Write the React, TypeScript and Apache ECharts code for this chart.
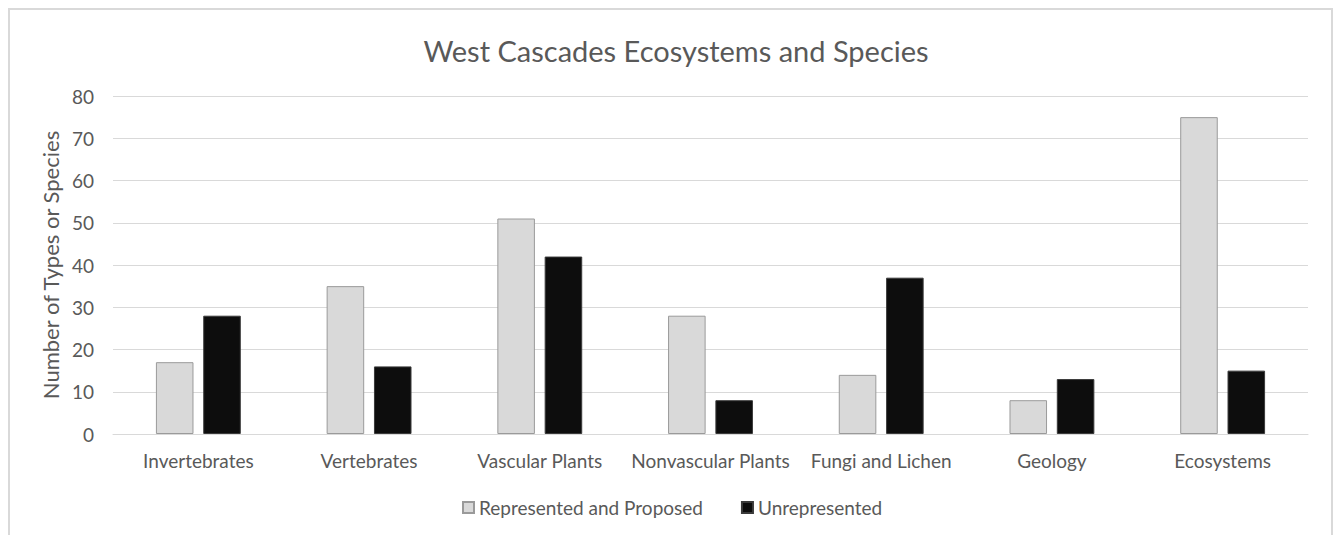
import React, { useEffect, useRef } from "react";
import * as echarts from "echarts";

const categories = [
  "Invertebrates",
  "Vertebrates",
  "Vascular Plants",
  "Nonvascular Plants",
  "Fungi and Lichen",
  "Geology",
  "Ecosystems",
];
const represented = [17, 35, 51, 28, 14, 8, 75];
const unrepresented = [28, 16, 42, 8, 37, 13, 15];
const seriesNames = ["Represented and Proposed", "Unrepresented"];
const titleText = "West Cascades Ecosystems and Species";
const yAxisName = "Number of Types or Species";

const FONT = "Lato";
const TXT = "#595959";

export default function App() {
  const ref = useRef<HTMLDivElement>(null);
  useEffect(() => {
    document.body.style.margin = "0";
    const chart = echarts.init(ref.current!, null, { renderer: "svg" });
    chart.setOption({
      animation: false,
      backgroundColor: "#ffffff",
      textStyle: { fontFamily: FONT },
      title: {
        text: titleText,
        left: 671,
        textAlign: "center",
        top: 31,
        textStyle: { fontFamily: FONT, fontSize: 29, fontWeight: "normal", color: TXT },
      },
      graphic: [
        {
          type: "rect",
          shape: { x: 9, y: 9, width: 1323, height: 600 },
          style: { fill: "none", stroke: "#d9d9d9", lineWidth: 2 },
          silent: true,
        },
      ],
      legend: {
        top: 493,
        left: 457,
        itemWidth: 11,
        itemHeight: 11,
        itemGap: 38,
        icon: "rect",
        textStyle: { fontFamily: FONT, fontSize: 19, color: TXT },
        data: seriesNames,
      },
      grid: { left: 113, right: 25, top: 96, bottom: 101, containLabel: false },
      xAxis: {
        type: "category",
        data: categories,
        axisLine: { show: true, lineStyle: { color: "#d9d9d9", width: 1 } },
        axisTick: { show: false },
        axisLabel: { fontFamily: FONT, fontSize: 19, color: TXT, margin: 17, interval: 0 },
      },
      yAxis: {
        type: "value",
        min: 0,
        max: 80,
        interval: 10,
        name: yAxisName,
        nameLocation: "middle",
        nameGap: 47,
        nameTextStyle: { fontFamily: FONT, fontSize: 22, color: TXT },
        axisLine: { show: false },
        axisTick: { show: false },
        axisLabel: { fontFamily: FONT, fontSize: 19, color: TXT, margin: 19 },
        splitLine: { lineStyle: { color: "#d9d9d9", width: 1 } },
      },
      series: [
        {
          name: seriesNames[0],
          type: "bar",
          data: represented,
          barWidth: "22%",
          barGap: "26%",
          itemStyle: { color: "#d9d9d9", borderColor: "#9a9a9a", borderWidth: 1 },
        },
        {
          name: seriesNames[1],
          type: "bar",
          data: unrepresented,
          barWidth: "22%",
          itemStyle: { color: "#0d0d0d", borderColor: "#3a3a3a", borderWidth: 1 },
        },
      ],
    });
    return () => chart.dispose();
  }, []);
  return <div ref={ref} style={{ width: 1333, height: 535 }} />;
}
